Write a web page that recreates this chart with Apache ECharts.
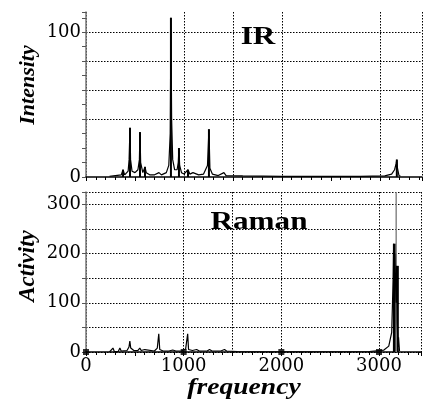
<!DOCTYPE html>
<html><head><meta charset="utf-8">
<script src="https://cdn.jsdelivr.net/npm/echarts@6/dist/echarts.min.js"></script>
<style>html,body{margin:0;padding:0;background:#fff}#c{width:424px;height:402px}</style>
</head><body><div id="c"></div>
<script>
// IR spectrum (frequency, intensity)
const irSpectrum = [[240,0.5],[300,1],[360,1.5],[378,5],[395,1.5],[430,4],[440,12],[449,34],[455,12],[470,4],[500,3],[530,5],[545,12],[551,31],[558,10],[580,3],[602,7],[615,3],[650,1.5],[700,1.5],[745,3],[770,1.5],[820,3],[845,8],[860,30],[867,110],[874,40],[885,12],[905,5],[930,5],[942,10],[949,20],[956,8],[975,3],[1000,2],[1041,5],[1060,2],[1092,3],[1110,2],[1150,1.5],[1200,2],[1240,8],[1255,33],[1265,6],[1290,2],[1350,1],[1408,3],[1430,1],[1600,0.8],[2000,0.5],[2800,0.5],[3050,0.8],[3120,2],[3150,5],[3165,9],[3173,12],[3180,6],[3195,1],[3210,0.5]];
const irSticks = [[378,5],[449,34],[551,31],[602,7],[867,110],[949,20],[1041,5],[1255,33],[3173,12]];
// Raman spectrum (frequency, activity)
const ramanSpectrum = [[240,0],[276,8],[290,1],[330,1],[347,8],[360,2],[420,3],[440,10],[449,22],[458,8],[490,3],[530,3],[551,8],[565,3],[602,5],[620,2],[700,2],[730,8],[745,37],[755,5],[790,2],[850,2],[888,4],[920,2],[980,2],[1020,6],[1041,37],[1050,5],[1090,3],[1133,5],[1160,2],[1240,2],[1265,5],[1290,2],[1380,2],[1418,5],[1440,2],[1550,1],[2000,0.5],[2900,1],[3050,4],[3100,12],[3130,40],[3145,150],[3150,220],[3155,120],[3160,200],[3168,150],[3175,100],[3180,175],[3186,60],[3195,10],[3200,30],[3210,2]];
const ramanSticks = [[3150,220],[3160,200],[3180,175]];
const ramanTallStick = [[3176,325]];
const axisMarks = [[0,0],[1000,0],[2000,0],[3000,0]];
const xLabels = [0,1000,2000,3000];
const irLabels = [0,100];
const ramanLabels = [0,100,200,300];

const SERIF = '"Liberation Serif", "Times New Roman", Times, serif';
const tickFont = {fontFamily:'DejaVu Serif', fontSize:18, color:'#000'};
const chart = echarts.init(document.getElementById('c'), null, {renderer:'canvas'});
function xAxisCfg(idx, showLabels){
  return {type:'value', gridIndex:idx, min:0, max:3430, interval:500,
    axisLine:{show:true, lineStyle:{color:'#000', width:1.5}},
    axisTick:{show:true, length:4, lineStyle:{color:'#000'}},
    minorTick:{show:true, splitNumber:5, length:3, lineStyle:{color:'#000'}},
    axisLabel:{show:showLabels, margin:5, ...tickFont, formatter:v => xLabels.includes(v) ? String(v) : ''},
    splitLine:{show:true, lineStyle:{type:[1.5,1.5], width:1, color:['#000','transparent','#000','#000','#000','transparent','#000']}}
  };
}
function label(text, x, y, size, italic, rot, sx){
  return {type:'text', x:x, y:y, rotation:rot||0, scaleX:sx||1,
    style:{text:text, fontFamily:SERIF, fontSize:size, fontWeight:'bold', fontStyle:italic?'italic':'normal', fill:'#000', align:'center', verticalAlign:'middle'}};
}
chart.setOption({
  animation:false,
  grid:[{left:86, top:12, width:336, height:165},{left:86, top:192, width:336, height:160}],
  xAxis:[xAxisCfg(0,false), xAxisCfg(1,true)],
  yAxis:[
    {type:'value', gridIndex:0, min:0, max:114, interval:20,
     axisLine:{show:true, lineStyle:{color:'#777', width:1.5}},
     axisTick:{show:true, length:4, lineStyle:{color:'#555'}},
     minorTick:{show:true, splitNumber:2, length:4, lineStyle:{color:'#555'}},
     axisLabel:{margin:5, ...tickFont, formatter:v => irLabels.includes(v) ? String(v) : ''},
     splitLine:{show:true, lineStyle:{type:[1.5,1.5], color:['transparent','transparent','#000','#000','#000','#000']}}},
    {type:'value', gridIndex:1, min:0, max:325, interval:50,
     axisLine:{show:true, lineStyle:{color:'#777', width:1.5}},
     axisTick:{show:true, length:4, lineStyle:{color:'#555'}},
     axisLabel:{margin:5, ...tickFont, formatter:v => ramanLabels.includes(v) ? String(v) : ''},
     splitLine:{show:true, lineStyle:{type:[1.5,1.5], color:'#000'}}}
  ],
  series:[
    {type:'line', xAxisIndex:0, yAxisIndex:0, data:irSpectrum, symbol:'none', lineStyle:{color:'#000', width:1.2}},
    {type:'bar', xAxisIndex:0, yAxisIndex:0, data:irSticks, barWidth:2, itemStyle:{color:'#000'}},
    {type:'line', xAxisIndex:1, yAxisIndex:1, data:ramanSpectrum, symbol:'none', lineStyle:{color:'#000', width:1.2}},
    {type:'bar', xAxisIndex:1, yAxisIndex:1, data:ramanSticks, barWidth:3, barGap:'-100%', itemStyle:{color:'#000'}},
    {type:'bar', xAxisIndex:1, yAxisIndex:1, data:ramanTallStick, barWidth:1.5, barGap:'-100%', itemStyle:{color:'#888'}},
    {type:'scatter', xAxisIndex:1, yAxisIndex:1, data:axisMarks, symbol:'rect', symbolSize:6, itemStyle:{color:'#000'}, z:5}
  ],
  graphic:[
    label('IR', 258, 37, 26, false, 0, 1.2),
    label('Raman', 259, 222, 26, false, 0, 1.2),
    label('Intensity', 28, 85, 22, true, Math.PI/2, 1),
    label('Activity', 28, 266, 23, true, Math.PI/2, 1),
    label('frequency', 244, 388, 23, true, 0, 1.2)
  ]
});
</script></body></html>
